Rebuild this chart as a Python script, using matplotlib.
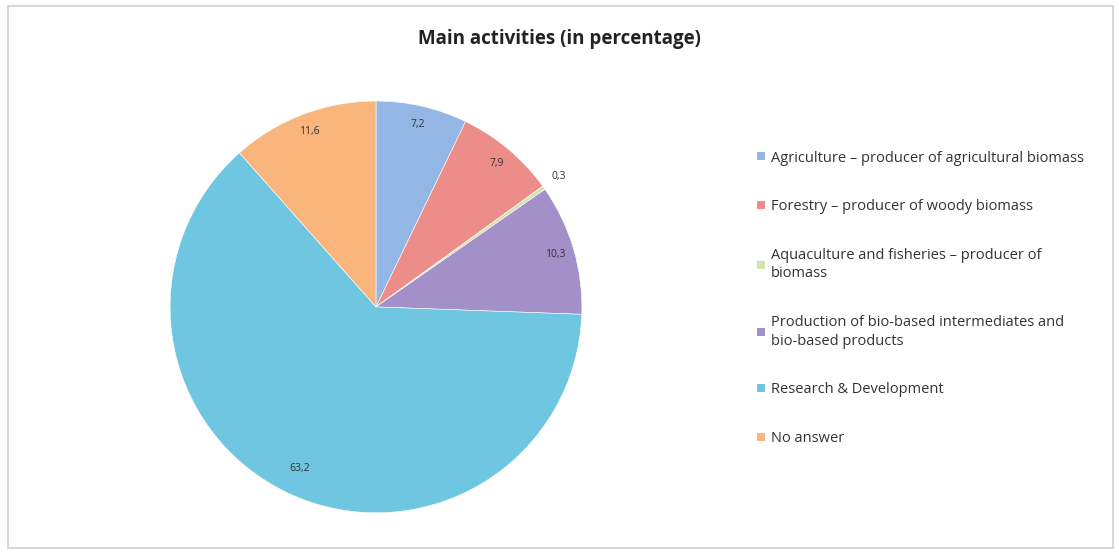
import numpy as np
import matplotlib.pyplot as plt
from matplotlib.patches import Rectangle

plt.rcParams['font.family'] = ['Open Sans', 'DejaVu Sans']

categories = ["Agriculture \u2013 producer of agricultural biomass",
              "Forestry \u2013 producer of woody biomass",
              "Aquaculture and fisheries \u2013 producer of\nbiomass",
              "Production of bio-based intermediates and\nbio-based products",
              "Research & Development",
              "No answer"]
values = [7.2, 7.9, 0.3, 10.3, 63.2, 11.6]
value_labels = ["7,2", "7,9", "0,3", "10,3", "63,2", "11,6"]
colors = ["#93b6e4", "#ec8d8a", "#d3e3b2", "#a390c9", "#6ec6e0", "#fab57c"]

fig = plt.figure(figsize=(11.19, 5.54), dpi=100)
fig.patches.append(Rectangle((0.007, 0.01), 0.988, 0.98, transform=fig.transFigure,
                             fill=False, edgecolor="#d0d0d0", linewidth=1.2))

ax = fig.add_axes([0.152, 0.074, 0.368, 0.744])
wedges, _ = ax.pie(values, colors=colors, startangle=90, counterclock=False,
                   wedgeprops=dict(edgecolor="white", linewidth=0.4))
ax.set_xlim(-1, 1)
ax.set_ylim(-1, 1)
ax.set_aspect("equal")

# value labels near the rim, the tiny slice gets its label outside
for w, txt in zip(wedges, value_labels):
    ang = np.deg2rad((w.theta1 + w.theta2) / 2)
    if txt == "0,3":
        r = 1.09
    elif txt == "63,2":
        r = 0.87
    else:
        r = 0.91
    ax.text(r * np.cos(ang), r * np.sin(ang), txt, ha="center", va="center",
            fontsize=7.5, color="#333333")

fig.text(0.5, 0.93, "Main activities (in percentage)", ha="center", va="center",
         fontsize=13.5, fontweight="bold", color="#222222")

handles = [Rectangle((0, 0), 1, 1, facecolor=c) for c in colors]
leg = fig.legend(handles, categories, loc="upper left", bbox_to_anchor=(0.665, 0.752),
                 frameon=False, fontsize=10.5, handlelength=0.5, handleheight=0.5,
                 handletextpad=0.45, labelspacing=2.3)
for t in leg.get_texts():
    t.set_color("#333333")
    t.set_linespacing(1.35)

plt.savefig("out.png", dpi=100)
